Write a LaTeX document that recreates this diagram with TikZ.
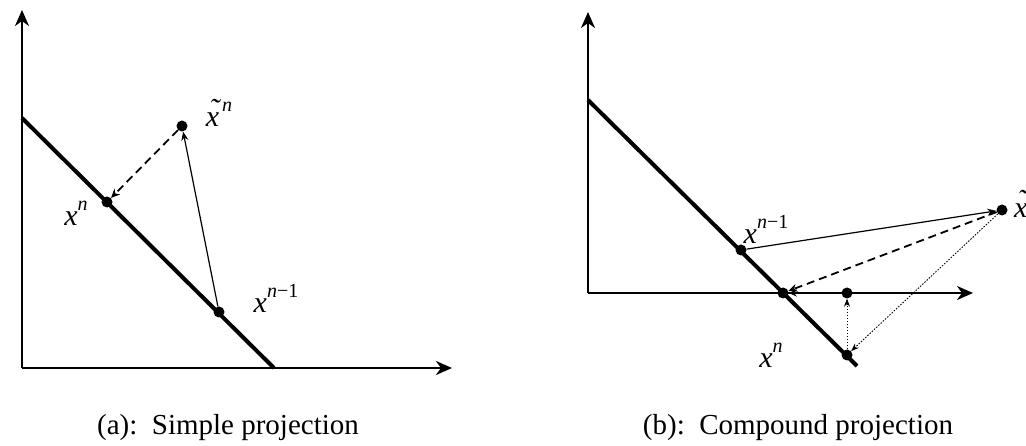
\documentclass[tikz,border=0pt]{standalone}
\usepackage{fontspec}
\setmainfont{Liberation Serif}
\usetikzlibrary{arrows.meta}
\newcommand\xl[2]{\textit{#1}\raisebox{0.5em}{\fontsize{20}{20}\selectfont #2}}
\newcommand\xtil{\ooalign{\textit{x}\cr\hidewidth\kern0.12em\raisebox{0.22em}{\char"02DC}\hidewidth\cr}\kern3pt}
\begin{document}
\begin{tikzpicture}[x=1pt,y=-1pt,
  axis/.style={line width=2pt,-{Stealth[length=16pt,width=14pt,inset=5pt]}},
  constraint/.style={line width=4pt},
  dot/.style={circle,fill=black,inner sep=0pt,minimum size=11pt},
  solidarrow/.style={line width=1.2pt,-{Stealth[length=9pt,width=7pt]}},
  dasharrow/.style={line width=1.8pt,dash pattern=on 8pt off 5pt,-{Stealth[length=9pt,width=8pt]}},
  dotarrow/.style={line width=0.9pt,dash pattern=on 1.5pt off 1.5pt,-{Stealth[length=8pt,width=6pt]}},
  dotarrowb/.style={line width=2.2pt,dash pattern=on 1pt off 1pt,-{Stealth[length=8pt,width=7pt]}},
  lab/.style={font=\fontsize{30}{30}\selectfont,inner sep=0pt},
  caption/.style={font=\fontsize{29}{29}\selectfont,inner sep=0pt,anchor=base}]
\useasboundingbox (0,0) rectangle (1026,446);
% ---------- panel (a)
\coordinate (aO) at (22,368);
\coordinate (aY) at (22,10);
\coordinate (aX) at (452,368);
\coordinate (aL1) at (22,118);
\coordinate (aL2) at (274,368);
\draw[axis] (aO) -- (aY);
\draw[axis] (aO) -- (aX);
\draw[constraint] (aL1) -- (aL2);
\node[dot] (axt) at (182,126) {};
\node[dot] (axn) at (107,202) {};
\node[dot] (axp) at (219,312) {};
\draw[solidarrow] (axp) -- (axt);
\draw[dasharrow] (axt) -- (axn);
\node[lab] (laxt) at (219,114) {\xl{\xtil}{\textit{n}}};
\node[lab] (laxn) at (76,213) {\xl{x}{\textit{n}}};
\node[lab] (laxp) at (276,298) {\xl{x}{\textit{n}−1}};
\node[caption] (capa) at (228,434) {(a):\ \ Simple projection};
% ---------- panel (b)
\coordinate (bO) at (588,293);
\coordinate (bY) at (588,12);
\coordinate (bX) at (973,293);
\coordinate (bL1) at (588,100);
\coordinate (bL2) at (857,366);
\draw[axis] (bO) -- (bY);
\draw[axis] (bO) -- (bX);
\draw[constraint] (bL1) -- (bL2);
\node[dot] (bxp) at (741,250) {};
\node[dot] (bint) at (783,293) {};
\node[dot] (bax) at (847,293) {};
\node[dot] (bxn) at (847,355) {};
\node[dot] (bxt) at (1002,210) {};
\draw[solidarrow] (bxp) -- (bxt);
\draw[dasharrow] (bxt) -- (bint);
\draw[dotarrow] (bxt) -- (bxn);
\draw[dotarrow] (bxn) -- (bax);
\draw[dotarrowb] (bax) -- (bint);
\node[lab,anchor=west] (lbxt) at (1014,205) {\xl{\xtil}{\textit{n}}};
\node[lab] (lbxp) at (766,229) {\xl{x}{\textit{n}−1}};
\node[lab] (lbxn) at (771,355) {\xl{x}{\textit{n}}};
\node[caption] (capb) at (798,434) {(b):\ \ Compound projection};
\end{tikzpicture}
\end{document}
